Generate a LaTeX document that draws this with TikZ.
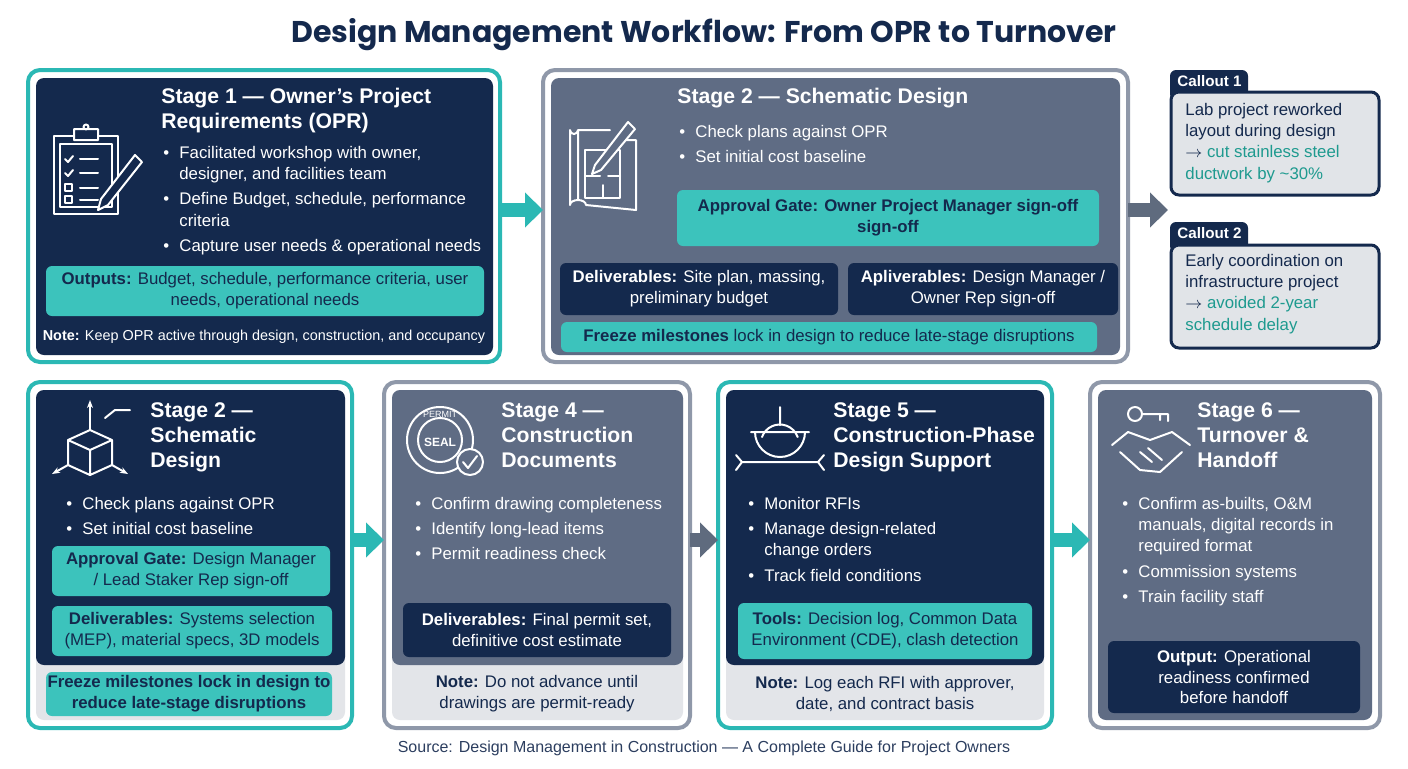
\documentclass[tikz,border=0pt]{standalone}
\usepackage{fontspec}
\setmainfont{Liberation Sans}
\newfontfamily\headfont{Poppins}
\usetikzlibrary{arrows.meta,positioning}
\definecolor{navy}{HTML}{14294D}
\definecolor{slate}{HTML}{5F6C84}
\definecolor{tealb}{HTML}{2BB8B4}
\definecolor{tealf}{HTML}{3CC3BC}
\definecolor{strip}{HTML}{E3E5E9}
\definecolor{callf}{HTML}{E1E4E8}
\definecolor{callt}{HTML}{1E9A8F}
\definecolor{grayarr}{HTML}{5F6B7E}
\newcommand\bul{\makebox[8pt][l]{\textbullet}}
\newcommand\cnt{\hspace*{8pt}}
\tikzset{
  outer/.style={rounded corners=6pt, line width=2pt, fill=white},
  inner/.style={rounded corners=4pt},
  sttl/.style={anchor=north west, font=\bfseries\fontsize{10.6}{12.5}\selectfont, text=white, align=left, inner sep=0pt},
  buls/.style={anchor=north west, font=\fontsize{8.4}{10.6}\selectfont, text=white, align=left, inner sep=0pt},
  tbox/.style={rounded corners=3pt, fill=tealf, text=navy, align=center, font=\fontsize{8.4}{10.4}\selectfont, inner sep=0pt},
  nbox/.style={rounded corners=3pt, fill=navy, text=white, align=center, font=\fontsize{8.4}{10.4}\selectfont, inner sep=0pt},
  icon/.style={white, line width=1pt, line join=round, line cap=round},
  bigarrow/.style={line width=7pt, -{Triangle[length=9pt,width=17pt]}},
}
\begin{document}
\begin{tikzpicture}[x=0.5pt,y=-0.5pt]
\useasboundingbox (0,0) rectangle (1408,768);
\node[font=\headfont\bfseries\fontsize{15}{17}\selectfont, text=navy] (title) at (704,35) {Design Management Workflow: From OPR to Turnover};

% stage 1
\draw[outer, draw=tealb] (28,70) rectangle (500,362);
\fill[inner, navy] (36,78) rectangle (493,355);
\coordinate (s1) at (500,210);
\node[sttl] (t1) at (161,88) {Stage 1 --- Owner's Project\\Requirements (OPR)};
\node[buls] (b1) at (163,146) {\bul Facilitated workshop with owner,\\\cnt designer, and facilities team\\[2pt]
  \bul Define Budget, schedule, performance\\\cnt criteria\\[2pt]\bul Capture user needs \& operational needs};
\node[tbox, minimum width=219pt, minimum height=25pt] (o1) at (265,291) {\textbf{Outputs:} Budget, schedule, performance criteria, user\\needs, operational needs};
\node[text=white, font=\fontsize{7.2}{9}\selectfont] (n1) at (264,337) {\textbf{Note:} Keep OPR active through design, construction, and occupancy};
% clipboard icon
\draw[icon] (54,136) rectangle (118,214) (60,144) rectangle (112,207);
\draw[icon, fill=navy] (74,129) rectangle (98,140) (86,127) circle (2.5);
\foreach \y/\c in {159/1,173/1,188/0,200/0}{
  \ifnum\c=1 \draw[icon] (65,\y) -- (68,\y+3) -- (73,\y-3); \else \draw[icon] (65,\y-4) rectangle (72,\y+3); \fi
  \draw[icon] (80,\y) -- (98,\y);}
\draw[icon, fill=navy] (135,155) -- (142,162) -- (108,205) -- (98,210) -- (101,199) -- cycle;

% stage 2 top
\draw[outer, draw=slate!70] (543,70) rectangle (1128,362);
\fill[inner, slate] (551,78) rectangle (1120,355);
\coordinate (s2) at (543,210);
\coordinate (s2e) at (1128,210);
\node[sttl] (t2) at (677,88) {Stage 2 --- Schematic Design};
\node[buls] (b2) at (679,125) {\bul Check plans against OPR\\[2pt]\bul Set initial cost baseline};
\node[tbox, minimum width=211pt, minimum height=28pt, font=\bfseries\fontsize{8.4}{10.4}\selectfont] (g2) at (888,218) {Approval Gate: Owner Project Manager sign-off\\sign-off};
\node[nbox, minimum width=139pt, minimum height=26pt] (d2) at (699,289) {\textbf{Deliverables:} Site plan, massing,\\preliminary budget};
\node[nbox, minimum width=135pt, minimum height=26pt] (a2) at (983,289) {\textbf{Apliverables:} Design Manager /\\Owner Rep sign-off};
\node[tbox, minimum width=268pt, minimum height=15pt] (f2) at (829,337) {\textbf{Freeze milestones} lock in design to reduce late-stage disruptions};
% plan icon
\draw[icon] (578,130) -- (610,130) (578,130) -- (578,200) (570,130) arc (180:0:4 and 4) (570,130) -- (570,205) arc (180:360:8 and 5) -- (636,210) -- (636,140) -- (622,140);
\draw[icon] (585,150) rectangle (620,198) (585,176) -- (600,176) (608,176) -- (620,176) (603,185) -- (603,198);
\draw[icon, fill=slate] (628,122) -- (635,129) -- (601,170) -- (592,174) -- (595,165) -- cycle;

% callouts
\fill[rounded corners=3pt, navy] (1170,70) rectangle (1248,100);
\node[text=white, font=\bfseries\fontsize{7.6}{9}\selectfont, anchor=west, inner sep=0pt] (c1t) at (1177,81) {Callout 1};
\draw[rounded corners=4pt, draw=navy, line width=1.5pt, fill=callf] (1171,92) rectangle (1379,195);
\node[buls, text=navy] (c1) at (1185,103) {Lab project reworked\\layout during design\\$\rightarrow$ \textcolor{callt}{cut stainless steel}\\\textcolor{callt}{ductwork by \textasciitilde30\%}};
\fill[rounded corners=3pt, navy] (1170,222) rectangle (1248,252);
\node[text=white, font=\bfseries\fontsize{7.6}{9}\selectfont, anchor=west, inner sep=0pt] (c2t) at (1177,233) {Callout 2};
\draw[rounded corners=4pt, draw=navy, line width=1.5pt, fill=callf] (1171,245) rectangle (1379,348);
\node[buls, text=navy] (c2) at (1185,254) {Early coordination on\\infrastructure project\\$\rightarrow$ \textcolor{callt}{avoided 2-year}\\\textcolor{callt}{schedule delay}};
\coordinate (c0) at (1168,210);

% stage 2 bottom
\draw[outer, draw=tealb] (28,382) rectangle (352,728);
\fill[inner, strip] (36,390) rectangle (345,720);
\fill[inner, navy] (36,390) rectangle (345,665);
\coordinate (s3) at (352,540);
\node[sttl] (t3) at (150,402) {Stage 2 ---\\Schematic\\Design};
\node[buls] (b3) at (66,497) {\bul Check plans against OPR\\[2pt]\bul Set initial cost baseline};
\node[tbox, minimum width=139pt, minimum height=25pt] (g3) at (191,571) {\textbf{Approval Gate:} Design Manager\\/ Lead Staker Rep sign-off};
\node[tbox, minimum width=140pt, minimum height=25pt] (d3) at (192,631) {\textbf{Deliverables:} Systems selection\\(MEP), material specs, 3D models};
\node[tbox, minimum width=143pt, minimum height=22pt, font=\bfseries\fontsize{8.4}{10.4}\selectfont] (f3) at (189,694) {Freeze milestones lock in design to\\reduce late-stage disruptions};
% cube icon
\draw[icon] (68,440) -- (90,430) -- (112,440) -- (112,465) -- (90,475) -- (68,465) -- cycle (68,440) -- (90,450) -- (112,440) (90,450) -- (90,475);
\draw[icon, -{Stealth[length=4pt]}] (90,430) -- (90,400);
\draw[icon, -{Stealth[length=4pt]}] (68,465) -- (52,474);
\draw[icon, -{Stealth[length=4pt]}] (112,465) -- (128,474);
\draw[icon] (105,418) -- (115,410) -- (130,410);

% stage 4
\draw[outer, draw=slate!70] (384,382) rectangle (690,728);
\fill[inner, strip] (392,390) rectangle (683,720);
\fill[inner, slate] (392,390) rectangle (683,665);
\coordinate (s4) at (384,540);
\coordinate (s4e) at (690,540);
\node[sttl] (t4) at (501,402) {Stage 4 ---\\Construction\\Documents};
\node[buls] (b4) at (415,497) {\bul Confirm drawing completeness\\[2pt]\bul Identify long-lead items\\[2pt]\bul Permit readiness check};
\node[nbox, minimum width=134pt, minimum height=27pt] (d4) at (537,630) {\textbf{Deliverables:} Final permit set,\\definitive cost estimate};
\node[buls, text=navy, anchor=center, align=center] (n4) at (537,694) {\textbf{Note:} Do not advance until\\drawings are permit-ready};
% seal icon
\draw[icon] (440,440) circle (33) (440,440) circle (22);
\node[text=white, font=\bfseries\fontsize{6}{7}\selectfont] (seal) at (440,442) {SEAL};
\node[text=white, font=\fontsize{4.5}{5}\selectfont] (permit) at (440,414) {PERMIT};
\draw[icon, fill=slate] (470,462) circle (13);
\draw[icon] (463,462) -- (468,468) -- (477,456);

% stage 5
\draw[outer, draw=tealb] (718,382) rectangle (1052,728);
\fill[inner, strip] (726,390) rectangle (1044,720);
\fill[inner, navy] (726,390) rectangle (1044,665);
\coordinate (s5) at (718,540);
\coordinate (s5e) at (1052,540);
\node[sttl] (t5) at (833,402) {Stage 5 ---\\Construction-Phase\\Design Support};
\node[buls] (b5) at (748,497) {\bul Monitor RFIs\\[2pt]\bul Manage design-related\\\cnt change orders\\[2pt]\bul Track field conditions};
\node[tbox, minimum width=147pt, minimum height=28pt] (d5) at (885,631) {\textbf{Tools:} Decision log, Common Data\\Environment (CDE), clash detection};
\node[buls, text=navy, anchor=center, align=center] (n5) at (885,694) {\textbf{Note:} Log each RFI with approver,\\date, and contract basis};
% hard hat + wrench icon
\draw[icon] (755,432) arc (180:0:25) -- cycle (751,432) -- (809,432) (780,407) -- (780,425);
\draw[icon] (762,437) arc (200:340:19);
\draw[icon] (742,462) -- (818,462) (742,462) -- (736,455) (742,462) -- (736,470) (818,462) -- (824,455) (818,462) -- (824,470);

% stage 6
\draw[outer, draw=slate!70] (1090,382) rectangle (1380,728);
\fill[inner, slate] (1098,390) rectangle (1372,720);
\coordinate (s6) at (1090,540);
\node[sttl] (t6) at (1197,402) {Stage 6 ---\\Turnover \&\\Handoff};
\node[buls] (b6) at (1122,497) {\bul Confirm as-builts, O\&M\\\cnt manuals, digital records in\\\cnt required format\\[2pt]\bul Commission systems\\[2pt]\bul Train facility staff};
\node[nbox, minimum width=126pt, minimum height=36pt] (o6) at (1234,677) {\textbf{Output:} Operational\\readiness confirmed\\before handoff};
% key + handshake icon
\draw[icon] (1135,414) circle (7) (1142,414) -- (1168,414) -- (1168,421) (1160,414) -- (1160,420);
\draw[icon] (1112,445) -- (1128,432) -- (1150,440) -- (1172,432) -- (1190,445) (1120,452) -- (1140,470) -- (1160,472) -- (1182,452) (1140,452) -- (1152,462) (1148,448) -- (1162,460);

% flow arrows
\draw[bigarrow, tealb] (s1) -- (s2);
\draw[bigarrow, grayarr] (s2e) -- (c0);
\draw[bigarrow, tealb] (s3) -- (s4);
\draw[bigarrow, grayarr] (s4e) -- (s5);
\draw[bigarrow, tealb] (s5e) -- (s6);

\node[text=navy!90, font=\fontsize{8}{9}\selectfont] (src) at (704,748) {Source: Design Management in Construction --- A Complete Guide for Project Owners};
\end{tikzpicture}
\end{document}
